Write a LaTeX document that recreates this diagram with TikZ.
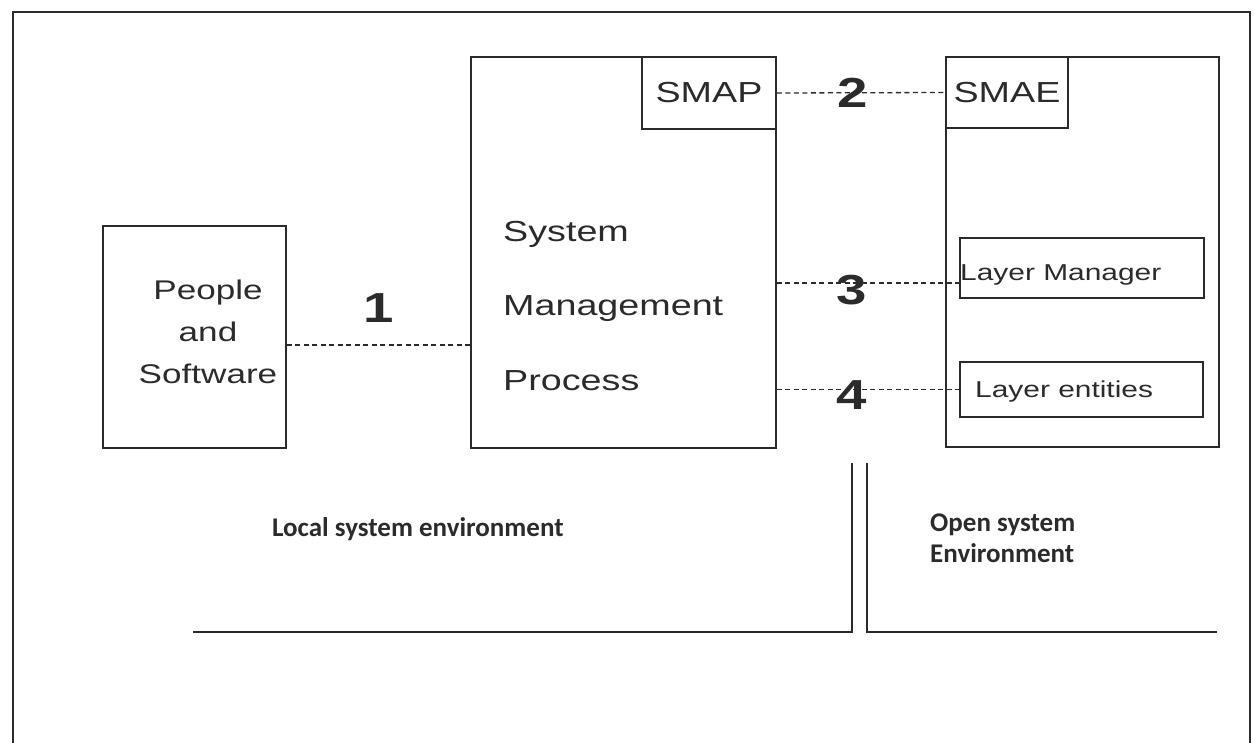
\documentclass[tikz,border=0pt]{standalone}
\usepackage{fontspec}
\setmainfont{Liberation Sans}[FakeStretch=1.3]
\newfontfamily\envfont{Carlito}
\usetikzlibrary{calc}
\definecolor{ink}{HTML}{2B2B2B}

\begin{document}
\begin{tikzpicture}[x=1pt, y=-1pt,
    % --- Box styles ---
    box/.style={draw=ink, line width=1.6pt, inner sep=0pt},
    txt/.style={text=ink, inner sep=0pt, font=\fontsize{27}{42}\selectfont},
    big/.style={text=ink, inner sep=0pt, font=\fontsize{29}{30}\selectfont},
    small/.style={text=ink, inner sep=0pt, font=\fontsize{23}{24}\selectfont},
    num/.style={text=ink, inner sep=0pt, font=\fontsize{42}{42}\selectfont\bfseries},
    env/.style={text=ink, inner sep=0pt, align=left,
                font=\envfont\bfseries\fontsize{27}{31}\selectfont},
    % --- Line styles ---
    link/.style={draw=ink, line width=1.3pt, dash pattern=on 5pt off 3.5pt},
    wall/.style={draw=ink, line width=1.6pt},
]
\useasboundingbox (0,0) rectangle (1255,743);

% === Outer frame (open at the bottom) ===
\draw[wall] (13,743) |- (1250,12) -- (1250,743);

% === Left: people and software ===
\node[box, minimum width=183pt, minimum height=222pt] (ppl) at (194.5,337) {};
\node[txt, align=center] (pplT) at (208,332) {People\\and\\Software};

% === Middle: system management process ===
\node[box, minimum width=305pt, minimum height=391pt] (smp) at (623.5,252.5) {};
\node[box, big, minimum width=134pt, minimum height=72pt] (smap) at (709,93) {SMAP};
\node[big, anchor=base west] (sysA) at (503,242) {System};
\node[big, anchor=base west] (sysB) at (503,315) {Management};
\node[big, anchor=base west] (sysC) at (503,390) {Process};

% === Right: SMAE and layers ===
\node[box, minimum width=273pt, minimum height=390pt] (smae) at (1082.5,252) {};
\node[box, big, minimum width=122pt, minimum height=71pt] (smaeh) at (1007,92.5) {SMAE};
\node[box, minimum width=244pt, minimum height=60pt] (lm) at (1082,268) {};
\node[small, anchor=base west] (lmT) at (960,280) {Layer Manager};
\node[box, minimum width=243pt, minimum height=55pt] (le) at (1081.5,389.5) {};
\node[small, anchor=base west] (leT) at (975,397) {Layer entities};

% === Dashed links with their numbers ===
\coordinate (c1) at (0,345);
\coordinate (c3) at (0,283);
\draw[link] (ppl.east |- c1) -- node[num, midway, yshift=37pt] (n1) {1} (smp.west |- c1);
\draw[link] (smap.east) -- node[num, pos=.45] (n2) {2} (smaeh.west);
\draw[link] (smp.east |- c3) -- node[num, pos=.41, yshift=-7pt] (n3) {3} (lm.west |- c3);
\draw[link] (smp.east |- le.west) -- node[num, pos=.41, yshift=-6pt] (n4) {4} (le.west);

% === Environment borders ===
\coordinate (wl) at (193,632);
\coordinate (wlt) at (852,463);
\draw[wall] (wl) -| (wlt);
\coordinate (wr) at (1217,632);
\coordinate (wrt) at (867,463);
\draw[wall] (wr) -| (wrt);

\node[env, anchor=base west] (loc) at (272,536) {Local system environment};
\node[env, anchor=north west] (open) at (930,514) {Open system\\Environment};

\end{tikzpicture}
\end{document}
